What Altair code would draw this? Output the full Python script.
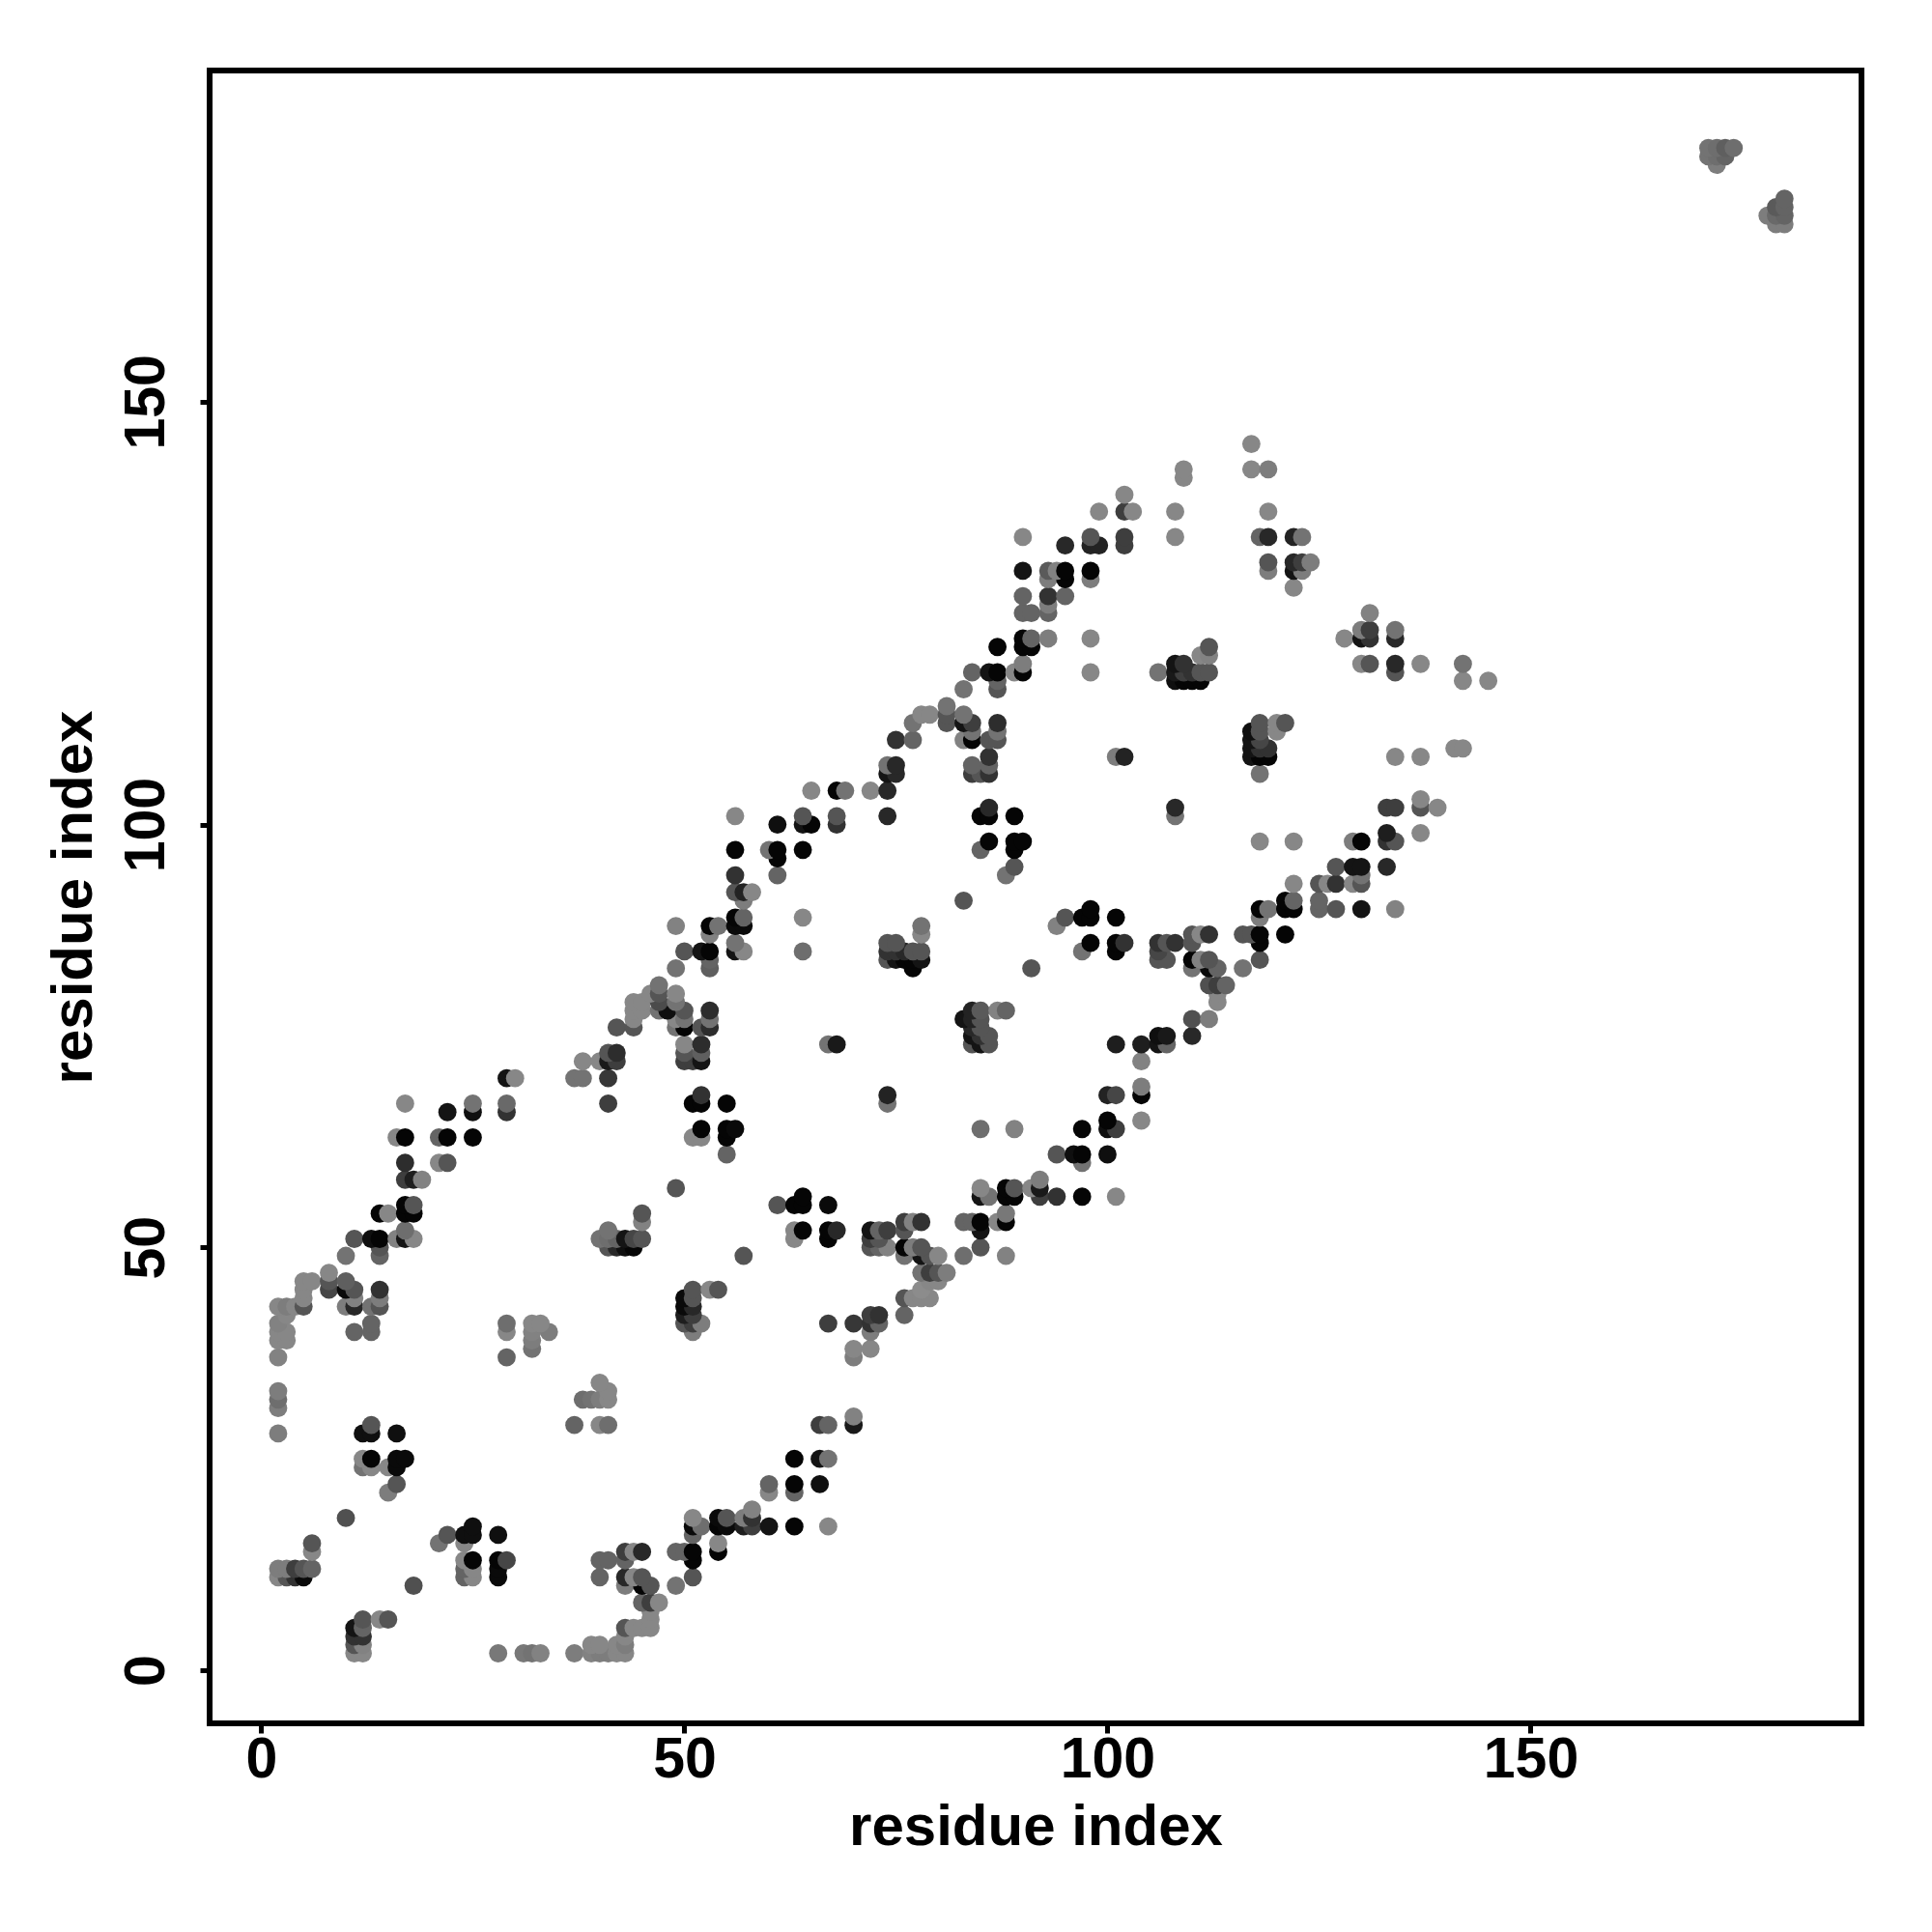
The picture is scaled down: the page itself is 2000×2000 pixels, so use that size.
import altair as alt
import pandas as pd

# (residue i, residue j, grey level 0-255)
contacts_a = [
 (11,2,135),(12,2,135),(28,2,120),(31,2,120),(32,2,115),(33,2,130),(37,2,125),(39,2,130),(40,2,125),(41,2,125),(42,2,135),(43,2,135),
 (11,3,85),(12,3,130),(39,3,135),(40,3,135),(42,3,135),(43,3,125),
 (11,4,50),(12,4,50),(43,4,135),
 (11,5,20),(12,5,100),(43,5,85),(44,5,135),(45,5,135),(46,5,135),
 (12,6,85),(14,6,135),(15,6,85),(46,6,135),(46,7,135),
 (45,8,100),(46,8,62),(47,8,135),
 (18,10,80),(43,10,125),(45,10,5),(46,10,85),(49,10,115),
 (2,11,135),(3,11,85),(4,11,50),(5,11,10),(24,11,100),(25,11,135),(28,11,10),(40,11,100),(43,11,40),(44,11,135),(45,11,85),(51,11,85),
 (2,12,125),(3,12,125),(4,12,62),(5,12,85),(6,12,100),(24,12,100),(25,12,135),(28,12,10),
 (24,13,135),(25,13,5),(28,13,5),(29,13,70),(40,13,100),(41,13,100),(43,13,100),(51,13,5),
 (6,14,135),(43,14,62),(44,14,135),(45,14,40),(49,14,100),(50,14,100),(51,14,5),(54,14,5),
 (6,15,85),(21,15,115),(24,15,135),(54,15,135),
 (22,16,85),(24,16,15),(25,16,15),(28,16,15),(51,16,100),
 (25,17,15),(51,17,10),(52,17,110),(54,17,5),(55,17,10),(57,17,30),(58,17,62),(60,17,20),(63,17,5),(67,17,135),
 (10,18,80),(51,18,135),(54,18,10),(55,18,85),(57,18,125),(58,18,50),(58,19,130),
 (15,21,125),(60,21,135),(63,21,100),(16,22,85),(60,22,100),(63,22,5),(66,22,15),
 (12,24,115),(13,24,135),(15,24,135),(16,24,10),
 (12,25,135),(13,25,5),(16,25,10),(17,25,10),(63,25,5),(66,25,20),(67,25,115),
 (2,28,125),(12,28,15),(13,28,15),(16,28,15),
 (13,29,85),(37,29,100),(40,29,135),(41,29,110),(66,29,62),(67,29,100),(70,29,25),(70,30,130),
]
contacts_b = [
 (2,31,125),(2,32,110),(2,33,125),(38,32,110),(39,32,115),(40,32,125),(41,32,135),(41,33,135),(40,34,135),
 (2,37,130),(29,37,100),(70,37,125),(32,38,115),(70,38,135),(72,38,135),
 (2,39,135),(3,39,135),(32,39,125),
 (2,40,135),(3,40,135),(11,40,100),(13,40,100),(29,40,135),(32,40,130),(34,40,125),(51,40,125),(72,40,125),
 (2,41,130),(13,41,100),(29,41,110),(32,41,135),(33,41,135),(50,41,85),(51,41,62),(52,41,125),(67,41,62),(70,41,55),(72,41,50),(73,41,100),
 (3,42,135),(50,42,30),(51,42,62),(72,42,62),(73,42,50),(76,42,100),
 (2,43,135),(3,43,125),(4,43,135),(5,43,85),(10,43,125),(11,43,40),(13,43,115),(14,43,85),(50,43,10),(51,43,40),
 (5,44,135),(11,44,130),(14,44,125),(50,44,10),(51,44,85),(76,44,85),(77,44,135),(78,44,135),(79,44,135),
 (5,45,135),(8,45,70),(10,45,10),(11,45,85),(14,45,50),(51,45,85),(53,45,135),(54,45,85),(78,45,140),
 (5,46,135),(6,46,135),(8,46,85),(10,46,95),(79,46,135),(80,46,135),
 (8,47,135),(78,47,115),(79,47,62),(80,47,85),(81,47,125),
 (10,49,115),(14,49,100),(57,49,85),(76,49,115),(78,49,20),(79,49,85),(80,49,135),(83,49,110),(88,49,130),
 (14,50,85),(41,50,85),(42,50,40),(43,50,15),(44,50,5),(72,50,85),(73,50,100),(74,50,130),(76,50,5),(77,50,125),(78,50,85),(85,50,85),
 (11,51,85),(13,51,15),(14,51,5),(16,51,130),(17,51,20),(18,51,135),(40,51,115),(41,51,110),(42,51,100),(43,51,20),(44,51,70),(45,51,85),(63,51,135),(67,51,5),(72,51,62),(73,51,85),
 (17,52,110),(41,52,115),(63,52,135),(64,52,5),(67,52,5),(68,52,40),(72,52,20),(73,52,100),(74,52,62),(76,52,85),(85,52,20),
 (45,53,130),(76,53,62),(77,53,130),(78,53,50),(83,53,100),(84,53,100),(85,53,5),(87,53,135),(88,53,5),
 (14,54,5),(15,54,135),(17,54,5),(18,54,5),(45,54,85),(88,54,120),
 (17,55,5),(18,55,85),(61,55,85),(63,55,5),(64,55,5),(67,55,10),
 (64,56,5),(85,56,20),(86,56,115),(88,56,5),(89,56,5),(92,56,62),(94,56,50),(97,56,5),(101,56,135),
 (49,57,85),(85,57,135),(88,57,5),(89,57,85),(91,57,135),(92,57,25),
 (17,58,62),(18,58,30),(19,58,130),(92,58,125),
 (17,60,45),(21,60,135),(22,60,85),(97,60,115),
]
contacts_c = [
 (55,61,100),(94,61,85),(96,61,15),(97,61,5),(100,61,15),
 (16,63,135),(17,63,5),(21,63,100),(22,63,5),(25,63,5),(51,63,135),(52,63,135),(55,63,5),
 (52,64,5),(55,64,5),(56,64,10),(85,64,110),(89,64,130),(97,64,5),(100,64,15),(101,64,62),
 (100,65,5),(104,65,135),(22,66,20),(25,66,15),(29,66,50),
 (17,67,135),(25,67,115),(29,67,105),(41,67,62),(51,67,5),(52,67,5),(55,67,5),(74,67,115),
 (52,68,50),(74,68,35),(100,68,35),(101,68,70),(104,68,5),(104,69,125),
 (29,70,20),(30,70,135),(37,70,115),(38,70,115),(41,70,55),
 (38,72,135),(40,72,135),(41,72,25),(42,72,62),(50,72,62),(51,72,62),(52,72,20),(104,72,130),
 (41,73,85),(42,73,45),(50,73,85),(52,73,95),
 (50,74,135),(52,74,45),(67,74,115),(68,74,25),(84,74,85),(85,74,20),(86,74,85),(101,74,30),(104,74,30),(106,74,20),(107,74,100),
 (84,75,20),(85,75,50),(86,75,85),(106,75,15),(107,75,25),(110,75,40),
 (42,76,85),(44,76,85),(49,76,115),(50,76,5),(52,76,85),(53,76,45),(84,76,40),(85,76,85),
 (44,77,135),(49,77,135),(50,77,115),(53,77,115),(83,77,20),(84,77,35),(85,77,85),(110,77,80),(112,77,125),
 (44,78,135),(45,78,135),(47,78,115),(48,78,15),(50,78,85),(53,78,45),(84,78,35),(85,78,90),(87,78,130),(88,78,100),
 (44,79,135),(45,79,135),(47,79,75),(49,79,115),(113,79,135),
 (46,80,135),(47,80,85),(49,80,135),(113,80,135),
 (47,81,115),(112,81,80),(113,81,62),(114,81,100),
 (49,83,115),(53,83,95),(77,83,5),(91,83,85),(110,83,115),(112,83,10),(113,83,100),(116,83,115),
 (53,84,100),(74,84,85),(75,84,20),(76,84,5),(77,84,5),(78,84,20),(106,84,85),(107,84,85),(110,84,5),(111,84,130),(112,84,85),(118,84,85),
 (50,85,85),(52,85,20),(53,85,5),(56,85,20),(57,85,135),(64,85,110),(74,85,50),(75,85,50),(76,85,40),(77,85,85),(78,85,85),(97,85,115),(101,85,5),(106,85,70),
 (56,86,115),(74,86,85),(75,86,85),(98,86,5),(101,86,5),(102,86,50),(106,86,50),(107,86,85),(108,86,50),(110,86,85),(118,86,5),
 (53,87,130),(78,87,135),(110,87,85),(111,87,135),(112,87,50),(116,87,85),(117,87,85),(118,87,5),(121,87,5),
 (49,88,130),(53,88,5),(54,88,115),(56,88,10),(57,88,10),(78,88,115),(94,88,130),
 (56,89,5),(57,89,100),(64,89,135),(95,89,85),(97,89,5),(98,89,5),(101,89,5),(118,89,125),
 (98,90,5),(118,90,5),(119,90,115),(121,90,5),(122,90,5),(125,90,100),(127,90,85),(130,90,20),(134,90,130),
]
contacts_d = [
 (57,91,125),(83,91,85),(121,91,5),(122,91,100),(125,91,100),
 (56,92,85),(57,92,35),(58,92,135),
 (122,93,135),(125,93,85),(126,93,135),(127,93,50),(129,93,135),(130,93,85),
 (56,94,50),(61,94,100),(88,94,115),(130,94,115),
 (89,95,85),(127,95,85),(129,95,20),(130,95,20),(133,95,40),(61,96,5),
 (56,97,5),(60,97,115),(61,97,5),(64,97,5),(85,97,100),(89,97,5),
 (86,98,5),(89,98,5),(90,98,5),(118,98,135),(122,98,135),(129,98,125),(130,98,5),(133,98,50),(134,98,85),
 (133,99,30),(137,99,135),
 (61,100,15),(64,100,20),(65,100,5),(68,100,50),
 (56,101,135),(64,101,85),(68,101,85),(74,101,40),(85,101,5),(86,101,5),(89,101,5),(108,101,115),
 (86,102,40),(108,102,40),(133,102,62),(134,102,62),(137,102,85),(139,102,135),(137,103,135),
 (65,104,135),(68,104,5),(69,104,115),(72,104,135),(74,104,40),
 (74,106,20),(75,106,40),(84,106,62),(85,106,85),(86,106,50),(118,106,115),
 (74,107,115),(75,107,40),(84,107,100),(86,107,100),
 (86,108,50),(101,108,125),(102,108,35),(117,108,20),(118,108,5),(119,108,5),(134,108,135),(137,108,135),
 (117,109,20),(118,109,50),(119,109,50),(141,109,135),(142,109,135),
 (75,110,50),(77,110,100),(83,110,130),(84,110,5),(86,110,85),(87,110,85),(117,110,20),(118,110,70),
 (84,111,115),(87,111,115),(117,111,15),(118,111,85),(120,111,135),
 (77,112,115),(81,112,85),(83,112,20),(84,112,62),(87,112,45),(118,112,85),(120,112,135),(121,112,85),
 (78,113,135),(79,113,135),(81,113,85),(83,113,115),(81,114,115),
 (83,116,115),(87,116,85),
 (87,117,100),(108,117,15),(109,117,5),(110,117,5),(111,117,5),(142,117,135),(145,117,135),
 (84,118,100),(86,118,20),(87,118,5),(89,118,135),(90,118,5),(98,118,135),(106,118,115),(108,118,25),(109,118,62),(110,118,50),(111,118,85),(112,118,85),
 (90,119,125),(108,119,20),(109,119,50),(130,119,135),(131,119,85),(134,119,40),(137,119,135),(142,119,115),(134,118,85),
 (111,120,135),(112,120,130),(87,121,5),(90,121,5),(91,121,5),(112,121,85),
 (90,122,5),(91,122,100),(93,122,125),(98,122,135),(128,122,135),(130,122,20),(131,122,50),(134,122,40),
 (130,123,125),(131,123,62),(134,123,115),
 (90,125,100),(91,125,100),(93,125,100),(131,125,130),(93,126,125),
 (90,127,100),(93,127,50),(95,127,100),(122,128,135),
 (93,129,125),(95,129,5),(98,129,125),
 (90,130,20),(93,130,90),(94,130,130),(95,130,5),(98,130,5),(119,130,125),(122,130,20),(123,130,125),
 (119,131,85),(122,131,40),(123,131,62),(124,131,125),
 (95,133,40),(98,133,35),(99,133,35),(102,133,62),
 (90,134,135),(98,134,85),(102,134,62),(108,134,135),(118,134,100),(119,134,40),(122,134,35),(123,134,115),
 (99,137,135),(102,137,62),(103,137,135),(108,137,135),(119,137,135),
 (102,139,135),(109,141,135),(109,142,135),(117,142,135),(119,142,125),(117,145,135),
]
contacts_far = [
 (179,171,125),(180,171,125),(178,172,125),(179,172,105),(180,172,100),(179,173,90),(180,173,100),(180,174,100),
 (172,178,125),(171,179,115),(172,179,110),(173,179,100),(171,180,115),(172,180,110),(173,180,95),(174,180,110),
]
x_ticks = [0, 50, 100, 150]
y_ticks = [0, 50, 100, 150]

rows = contacts_a + contacts_b + contacts_c + contacts_d + contacts_far
df = pd.DataFrame(rows, columns=["i", "j", "g"]).sort_values(["j", "i"], kind="stable")
df["shade"] = df["g"].map(lambda v: f"#{v:02x}{v:02x}{v:02x}")

FONT = "Liberation Sans"
chart = (
    alt.Chart(df)
    .mark_circle(size=355, opacity=1)
    .encode(
        x=alt.X(
            "i:Q",
            scale=alt.Scale(domain=[-6.1, 189.1], nice=False, zero=False),
            axis=alt.Axis(
                values=x_ticks, title="residue index", grid=False, domain=False,
                tickColor="black", tickWidth=5, tickSize=10, labelFont=FONT,
                labelFontWeight="bold", labelFontSize=59, labelColor="black",
                labelPadding=-2, labelFlush=False, labelOverlap=False,
                titleFont=FONT, titleFontWeight="bold", titleFontSize=60,
                titleColor="black", titlePadding=11, format="d",
            ),
        ),
        y=alt.Y(
            "j:Q",
            scale=alt.Scale(domain=[-6.28, 189.16], nice=False, zero=False),
            axis=alt.Axis(
                values=y_ticks, title="residue index", grid=False, domain=False,
                tickColor="black", tickWidth=5, tickSize=10, labelFont=FONT,
                labelFontWeight="bold", labelFontSize=59, labelColor="black",
                labelAngle=270, labelAlign="center", labelBaseline="bottom",
                labelPadding=26, labelFlush=False, labelOverlap=False,
                titleFont=FONT, titleFontWeight="bold", titleFontSize=60,
                titleColor="black", titlePadding=15, format="d",
            ),
        ),
        color=alt.Color("shade:N", scale=None, legend=None),
        order=alt.Order("j:Q"),
    )
    .properties(
        width=1710, height=1711,
        autosize=alt.AutoSizeParams(type="none"),
        padding={"left": 209, "top": 65, "right": 60, "bottom": 200},
        background="white",
    )
    .configure_view(stroke="black", strokeWidth=6)
)
chart.save("out.html", embed_options={"renderer": "svg", "actions": False})
